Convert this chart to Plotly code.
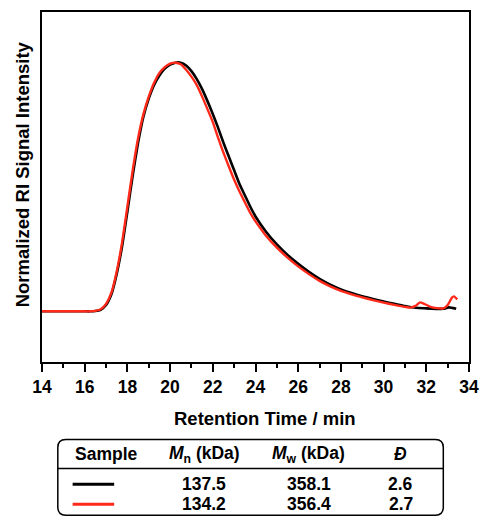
import plotly.graph_objects as go

# ---- data ----
t_black = [14.0, 16.0, 16.25, 16.5, 16.75, 17.0, 17.25, 17.5, 17.75, 18.0, 18.25, 18.5, 18.75, 19.0,
           19.25, 19.5, 19.75, 20.0, 20.25, 20.5, 20.75, 21.0, 21.25, 21.5, 21.75, 22.0, 22.25, 22.5,
           22.75, 23.0, 23.25, 23.5, 23.75, 24.0, 24.5, 25.0, 25.5, 26.0, 26.5, 27.0, 27.5, 28.0,
           28.5, 29.0, 29.5, 30.0, 30.5, 31.0, 31.5, 32.0, 32.5, 32.8, 33.05, 33.4]
v_black = [0.0, 0.0, 0.0, 0.001, 0.006, 0.025, 0.068, 0.15, 0.26, 0.4, 0.545, 0.675, 0.78, 0.852,
           0.907, 0.945, 0.972, 0.988, 0.996, 0.996, 0.985, 0.962, 0.93, 0.89, 0.842, 0.79, 0.735, 0.675,
           0.62, 0.565, 0.51, 0.465, 0.42, 0.38, 0.318, 0.268, 0.226, 0.19, 0.158, 0.13, 0.107, 0.088,
           0.073, 0.06, 0.049, 0.039, 0.03, 0.021, 0.014, 0.012, 0.01, 0.01, 0.016, 0.01]

t_red = [14.0, 16.0, 16.25, 16.5, 16.75, 17.0, 17.25, 17.5, 17.75, 18.0, 18.25, 18.5, 18.75, 19.0,
         19.25, 19.5, 19.75, 20.0, 20.25, 20.5, 20.75, 21.0, 21.25, 21.5, 21.75, 22.0, 22.25, 22.5,
         22.75, 23.0, 23.25, 23.5, 23.75, 24.0, 24.5, 25.0, 25.5, 26.0, 26.5, 27.0, 27.5, 28.0,
         28.5, 29.0, 29.5, 30.0, 30.5, 31.0, 31.25, 31.5, 31.7, 31.9, 32.2, 32.5, 32.8, 33.0,
         33.2, 33.3, 33.45]
v_red = [0.0, 0.0, 0.0, 0.002, 0.008, 0.03, 0.075, 0.16, 0.275, 0.42, 0.566, 0.693, 0.79, 0.86,
         0.916, 0.955, 0.978, 0.992, 0.996, 0.99, 0.968, 0.94, 0.906, 0.86, 0.81, 0.758, 0.695, 0.635,
         0.58, 0.527, 0.48, 0.437, 0.395, 0.36, 0.302, 0.255, 0.215, 0.18, 0.149, 0.122, 0.1, 0.082,
         0.068, 0.056, 0.045, 0.035, 0.026, 0.018, 0.015, 0.022, 0.036, 0.03, 0.018, 0.013, 0.012, 0.025,
         0.055, 0.06, 0.048]

x_ticks = [14, 16, 18, 20, 22, 24, 26, 28, 30, 32, 34]
x_title = "Retention Time / min"
y_title = "Normalized RI Signal Intensity"

table_header = ["Sample", "<i>M</i><sub>n</sub> (kDa)", "<i>M</i><sub>w</sub> (kDa)", "<i>Đ</i>"]
series_colors = ["black", "#ff2a1a"]
mn_values = ["137.5", "134.2"]
mw_values = ["358.1", "356.4"]
dispersity = ["2.6", "2.7"]

FONT = "Liberation Sans, Arial, sans-serif"
W, H = 489, 516
L, R, T, B = 42, 474, 10, 362


def px(xp):
    return (xp - L) / (R - L)


def py(yp):
    return (B - yp) / (B - T)


fig = go.Figure()
fig.add_trace(go.Scatter(x=t_black, y=v_black, mode="lines",
                         line=dict(color=series_colors[0], width=2.6, shape="spline", smoothing=0.5),
                         showlegend=False))
fig.add_trace(go.Scatter(x=t_red, y=v_red, mode="lines",
                         line=dict(color=series_colors[1], width=2.4, shape="spline", smoothing=0.5),
                         showlegend=False))

fig.update_layout(
    width=W, height=H,
    margin=dict(l=L, r=W - R, t=T, b=H - B),
    paper_bgcolor="white", plot_bgcolor="white",
    font=dict(family=FONT, color="black"),
    xaxis=dict(range=[14, 34], tickvals=x_ticks, ticktext=[f"<b>{v}</b>" for v in x_ticks],
               ticks="outside", ticklen=8, tickwidth=2, tickcolor="black",
               minor=dict(dtick=1, ticks="outside", ticklen=4, tickwidth=2, tickcolor="black"),
               showline=True, linecolor="black", linewidth=2, mirror=True, showgrid=False, zeroline=False,
               tickfont=dict(size=17.5, family=FONT)),
    yaxis=dict(range=[-0.203, 1.199], showticklabels=False, ticks="",
               showline=True, linecolor="black", linewidth=2, mirror=True, showgrid=False, zeroline=False),
)

# axis titles
fig.add_annotation(xref="paper", yref="paper", x=px(268), y=py(419), text=f"<b>{x_title}</b>",
                   showarrow=False, font=dict(size=18.5, family=FONT), xanchor="center", yanchor="middle")
fig.add_annotation(xref="paper", yref="paper", x=px(22), y=py(173), text=f"<b>{y_title}</b>", textangle=-90,
                   showarrow=False, font=dict(size=18.5, family=FONT), xanchor="center", yanchor="middle")

# table box (rounded rectangle)
x0, x1, y0, y1, r = 58, 448, 440, 516, 8
path = (f"M {px(x0 + r)},{py(y0)} L {px(x1 - r)},{py(y0)} Q {px(x1)},{py(y0)} {px(x1)},{py(y0 + r)} "
        f"L {px(x1)},{py(y1 - r)} Q {px(x1)},{py(y1)} {px(x1 - r)},{py(y1)} "
        f"L {px(x0 + r)},{py(y1)} Q {px(x0)},{py(y1)} {px(x0)},{py(y1 - r)} "
        f"L {px(x0)},{py(y0 + r)} Q {px(x0)},{py(y0)} {px(x0 + r)},{py(y0)} Z")
fig.add_shape(type="path", xref="paper", yref="paper", path=path, line=dict(color="black", width=1.5))
fig.add_shape(type="line", xref="paper", yref="paper", x0=px(x0), x1=px(x1), y0=py(469), y1=py(469),
              line=dict(color="black", width=1.5))

col_x = [107, 206, 312, 405]
for cx, txt in zip(col_x, table_header):
    fig.add_annotation(xref="paper", yref="paper", x=px(cx), y=py(455), text=f"<b>{txt}</b>",
                       showarrow=False, font=dict(size=17.5, family=FONT), xanchor="center", yanchor="middle")

row_y = [485, 505]
for i, ry in enumerate(row_y):
    fig.add_shape(type="line", xref="paper", yref="paper", x0=px(73), x1=px(115), y0=py(ry), y1=py(ry),
                  line=dict(color=series_colors[i], width=3))
    for cx, txt in zip(col_x[1:], [mn_values[i], mw_values[i], dispersity[i]]):
        fig.add_annotation(xref="paper", yref="paper", x=px(cx), y=py(ry), text=f"<b>{txt}</b>",
                           showarrow=False, font=dict(size=17.5, family=FONT), xanchor="center", yanchor="middle")

fig.write_html("out.html")
